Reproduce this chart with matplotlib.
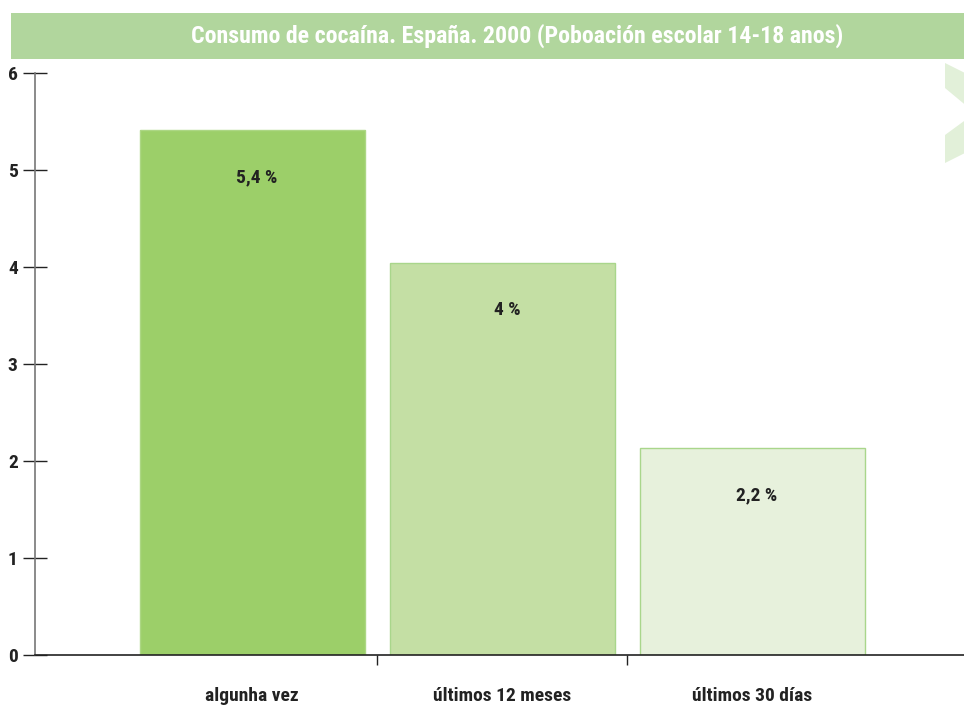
import matplotlib
matplotlib.use("Agg")
import matplotlib.pyplot as plt
from matplotlib.patches import Polygon, Rectangle
import warnings
warnings.filterwarnings("ignore")

categories = ["algunha vez", "últimos 12 meses", "últimos 30 días"]
values = [5.41, 4.04, 2.13]
value_labels = ["5,4 %", "4 %", "2,2 %"]
yticks = [0, 1, 2, 3, 4, 5, 6]
title = "Consumo de cocaína. España. 2000 (Poboación escolar 14-18 anos)"

face_colors = ["#9ccf69", "#c4dfa4", "#e7f1dc"]
edge_colors = ["#acd784", "#a9d68b", "#a9d68b"]

FONT = ["Liberation Sans Narrow", "DejaVu Sans Condensed", "Roboto Condensed", "Roboto", "DejaVu Sans"]
plt.rcParams["font.family"] = FONT

W, H = 964, 705
fig = plt.figure(figsize=(W / 100, H / 100), dpi=100)

# title banner
fig.patches.append(Rectangle((11 / W, 1 - 59 / H), (W - 11) / W, 46 / H,
                             transform=fig.transFigure, facecolor="#b1d69d",
                             edgecolor="none", zorder=0))
fig.text(517 / W, 1 - 36 / H, title, color="white", fontsize=17.2, fontweight="bold",
         ha="center", va="center")

# decorative chevron on right
pts = [(945, 63), (995, 88), (995, 138), (945, 163), (945, 135), (975, 113), (945, 88)]
fig.patches.append(Polygon([(x / W, 1 - y / H) for x, y in pts], closed=True,
                           transform=fig.transFigure, facecolor="#e2f0d9",
                           edgecolor="none", zorder=0))

left, right, top, bottom = 35, 964, 73, 655
ax = fig.add_axes([left / W, 1 - bottom / H, (right - left) / W, (bottom - top) / H])
ax.set_facecolor("none")

x = list(range(len(categories)))
bars = ax.bar(x, values, width=0.9, color=face_colors, edgecolor=edge_colors, linewidth=1, zorder=2)
for xi, v, lab in zip(x, values, value_labels):
    ax.annotate(lab, xy=(xi + 0.02, v), xytext=(0, -34), textcoords="offset points",
                ha="center", va="center", fontsize=14, fontweight="bold", color="#222222")

ax.set_ylim(0, 6)
ax.set_xlim(-0.868, 2.848)
ax.set_yticks(yticks)
ax.set_yticklabels([str(t) for t in yticks], fontsize=14, fontweight="bold", color="#222222")
ax.tick_params(axis="y", direction="inout", length=17, width=1, color="#222222", pad=4)

ax.set_xticks(x)
ax.set_xticklabels(categories, fontsize=14, fontweight="bold", color="#222222")
ax.tick_params(axis="x", which="major", length=0, pad=23)
ax.set_xticks([0.5, 1.5], minor=True)
ax.tick_params(axis="x", which="minor", direction="out", length=7, width=1, color="#222222")

for s in ["top", "right"]:
    ax.spines[s].set_visible(False)
ax.spines["left"].set_color("#777777")
ax.spines["left"].set_linewidth(1.2)
ax.spines["bottom"].set_color("#222222")
ax.spines["bottom"].set_linewidth(1.2)

fig.savefig("out.png", dpi=100)
